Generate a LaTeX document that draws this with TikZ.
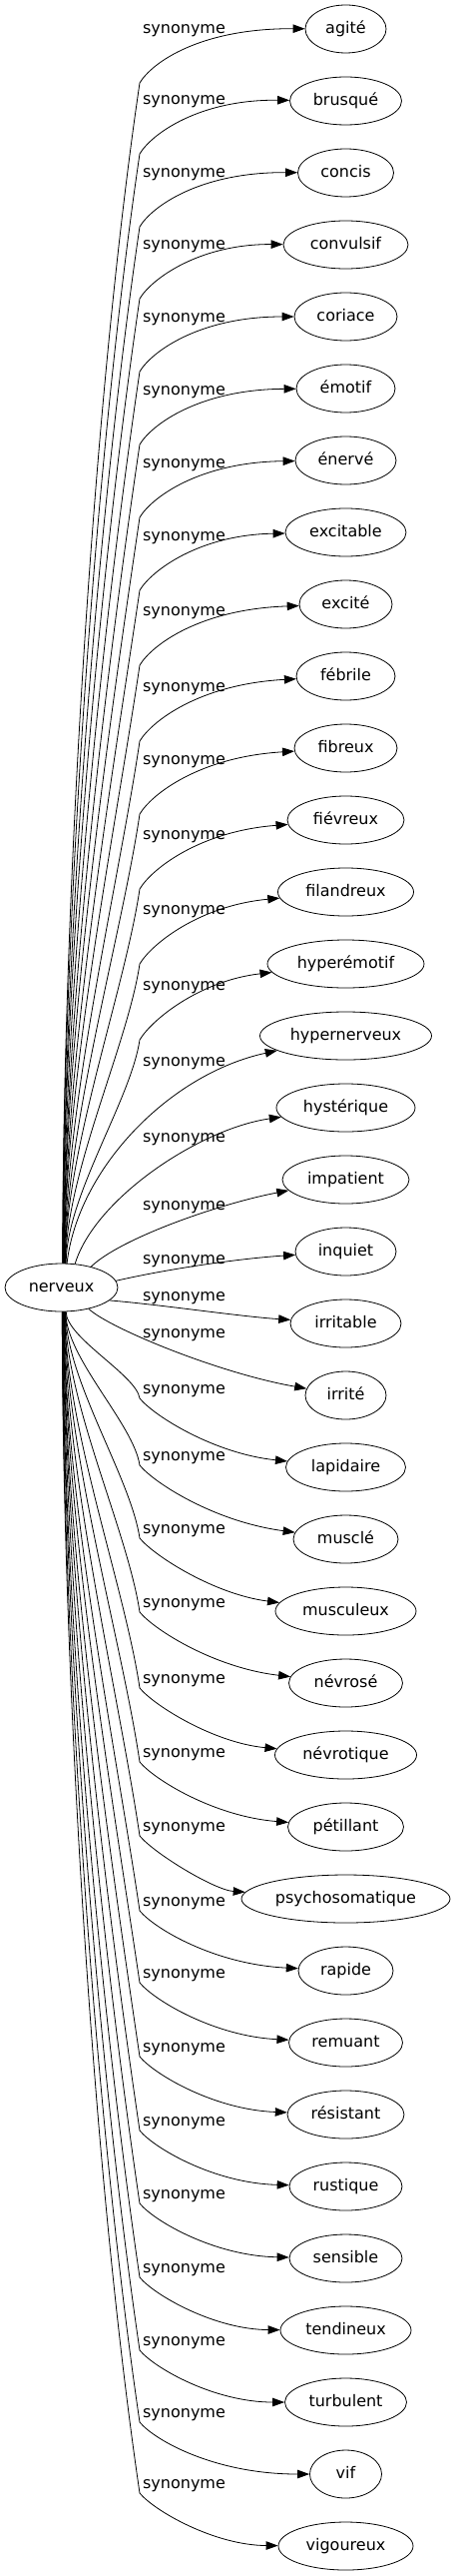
\documentclass[tikz,border=0pt]{standalone}
\usepackage{fontspec}
\setmainfont{DejaVu Sans}
\usetikzlibrary{arrows.meta,shapes.geometric}
\begin{document}
\begin{tikzpicture}[x=1pt,y=1pt,
  tnode/.style={draw, ellipse, line width=0.8pt, inner sep=0pt, minimum height=48pt,
    font=\fontsize{16}{19}\selectfont, text height=12.4pt, text depth=3.8pt},
  lbl/.style={inner sep=0pt, font=\fontsize{16}{19}\selectfont, text height=12.4pt, text depth=3.8pt},
  edge/.style={line width=0.8pt, -{Triangle[length=12pt,width=8.5pt]}}]
\useasboundingbox (0,0) rectangle (456,-2579);

\node[tnode, minimum width=113pt] (nerveux) at (61.5,-1289) {nerveux};

\node[tnode, minimum width=81pt]  (agite) at (346.5,-29) {agité};
\node[tnode, minimum width=112pt] (brusque) at (346.5,-101) {brusqué};
\node[tnode, minimum width=96pt]  (concis) at (346.5,-173) {concis};
\node[tnode, minimum width=125pt] (convulsif) at (346.5,-245) {convulsif};
\node[tnode, minimum width=103pt] (coriace) at (346.5,-317) {coriace};
\node[tnode, minimum width=99pt]  (emotif) at (346.5,-389) {émotif};
\node[tnode, minimum width=101pt] (enerve) at (346.5,-461) {énervé};
\node[tnode, minimum width=121pt] (excitable) at (346.5,-533) {excitable};
\node[tnode, minimum width=93pt]  (excite) at (346.5,-605) {excité};
\node[tnode, minimum width=99pt]  (febrile) at (346.5,-677) {fébrile};
\node[tnode, minimum width=103pt] (fibreux) at (346.5,-749) {fibreux};
\node[tnode, minimum width=117pt] (fievreux) at (346.5,-821) {fiévreux};
\node[tnode, minimum width=136pt] (filandreux) at (346.5,-893) {filandreux};
\node[tnode, minimum width=157pt] (hyperemotif) at (346.5,-965) {hyperémotif};
\node[tnode, minimum width=172pt] (hypernerveux) at (346.5,-1037) {hypernerveux};
\node[tnode, minimum width=139pt] (hysterique) at (346.5,-1109) {hystérique};
\node[tnode, minimum width=127pt] (impatient) at (346.5,-1181) {impatient};
\node[tnode, minimum width=101pt] (inquiet) at (346.5,-1253) {inquiet};
\node[tnode, minimum width=111pt] (irritable) at (346.5,-1325) {irritable};
\node[tnode, minimum width=81pt]  (irrite) at (346.5,-1397) {irrité};
\node[tnode, minimum width=120pt] (lapidaire) at (346.5,-1469) {lapidaire};
\node[tnode, minimum width=105pt] (muscle) at (346.5,-1541) {musclé};
\node[tnode, minimum width=141pt] (musculeux) at (346.5,-1613) {musculeux};
\node[tnode, minimum width=114pt] (nevrose) at (346.5,-1685) {névrosé};
\node[tnode, minimum width=142pt] (nevrotique) at (346.5,-1757) {névrotique};
\node[tnode, minimum width=116pt] (petillant) at (346.5,-1829) {pétillant};
\node[tnode, minimum width=209pt] (psychosomatique) at (346.5,-1901) {psychosomatique};
\node[tnode, minimum width=95pt]  (rapide) at (346.5,-1973) {rapide};
\node[tnode, minimum width=114pt] (remuant) at (346.5,-2045) {remuant};
\node[tnode, minimum width=117pt] (resistant) at (346.5,-2117) {résistant};
\node[tnode, minimum width=113pt] (rustique) at (346.5,-2189) {rustique};
\node[tnode, minimum width=113pt] (sensible) at (346.5,-2261) {sensible};
\node[tnode, minimum width=131pt] (tendineux) at (346.5,-2333) {tendineux};
\node[tnode, minimum width=122pt] (turbulent) at (346.5,-2405) {turbulent};
\node[tnode, minimum width=72pt]  (vif) at (346.5,-2477) {vif};
\node[tnode, minimum width=135pt] (vigoureux) at (346.5,-2549) {vigoureux};

% edge labels
\foreach \n/\yl in {agite/28, brusque/99, concis/172, convulsif/244, coriace/317,
  emotif/390, enerve/463, excitable/536, excite/611, febrile/687, fibreux/760,
  fievreux/835, filandreux/910, hyperemotif/986, hypernerveux/1062, hysterique/1138,
  impatient/1206, inquiet/1260, irritable/1297, irrite/1334, lapidaire/1390,
  muscle/1457, musculeux/1530, nevrose/1604, nevrotique/1680, petillant/1754,
  psychosomatique/1828, rapide/1903, remuant/1975, resistant/2049, rustique/2123,
  sensible/2196, tendineux/2270, turbulent/2343, vif/2415, vigoureux/2486}{
  \node[lbl] (l\n) at (184.5,{-\yl-1}) {synonyme};
}

% upper edges (bend at a knee below the label)
\foreach \n/\i/\yl in {agite/0/28, brusque/1/99, concis/2/172, convulsif/3/244,
  coriace/4/317, emotif/5/390, enerve/6/463, excitable/7/536, excite/8/611,
  febrile/9/687, fibreux/10/760, fievreux/11/835, filandreux/12/910, hyperemotif/13/986}{
  \pgfmathsetmacro\yt{29+72*\i}
  \pgfmathsetmacro\Ky{\yl+55}
  \pgfmathsetmacro\L{1265-\Ky}
  \pgfmathtruncatemacro\ang{88-10*(1-\L/1183)}
  \pgfmathsetmacro\ca{0.3*\L}
  \pgfmathsetmacro\cbx{-0.04*\L}
  \pgfmathsetmacro\cby{-0.27*\L}
  \pgfmathsetmacro\cfy{-(\yt+0.8*(\yl-\yt))}
  \coordinate (k\n) at (140,-\Ky);
  \draw[edge] (nerveux.\ang) .. controls +(0,\ca) and +(\cbx,\cby) .. (k\n)
     .. controls +(12,20) and (200,\cfy) .. (\n);
}

% lower edges
\foreach \n/\i/\yl in {lapidaire/20/1390, muscle/21/1457, musculeux/22/1530,
  nevrose/23/1604, nevrotique/24/1680, petillant/25/1754, psychosomatique/26/1828,
  rapide/27/1903, remuant/28/1975, resistant/29/2049, rustique/30/2123,
  sensible/31/2196, tendineux/32/2270, turbulent/33/2343, vif/34/2415, vigoureux/35/2486}{
  \pgfmathsetmacro\yt{29+72*\i}
  \pgfmathsetmacro\Ky{\yl+10}
  \pgfmathsetmacro\L{\Ky-1313}
  \pgfmathtruncatemacro\ang{272+10*(1-\L/1183)}
  \pgfmathsetmacro\ca{-0.3*\L}
  \pgfmathsetmacro\cbx{-0.04*\L}
  \pgfmathsetmacro\cby{0.27*\L}
  \pgfmathsetmacro\cfy{-(\yt-0.8*max(0,\yt-\Ky-52))}
  \coordinate (k\n) at (140,-\Ky);
  \draw[edge] (nerveux.\ang) .. controls +(0,\ca) and +(\cbx,\cby) .. (k\n)
     .. controls +(15,-18) and (215,\cfy) .. (\n);
}

% edges close to the centre
\draw[edge] (nerveux.77) .. controls (78,-1170) and (170,-1075) .. (hypernerveux);
\draw[edge] (nerveux.60) .. controls (95,-1200) and (200,-1130) .. (hysterique);
\draw[edge] (nerveux.35) .. controls (120,-1240) and (220,-1205) .. (impatient);
\draw[edge] (nerveux.7) .. controls (170,-1270) and (240,-1260) .. (inquiet);
\draw[edge] (nerveux.345) .. controls (160,-1306) and (240,-1318) .. (irritable);
\draw[edge] (nerveux.322) .. controls (110,-1330) and (220,-1375) .. (irrite);
\end{tikzpicture}
\end{document}
